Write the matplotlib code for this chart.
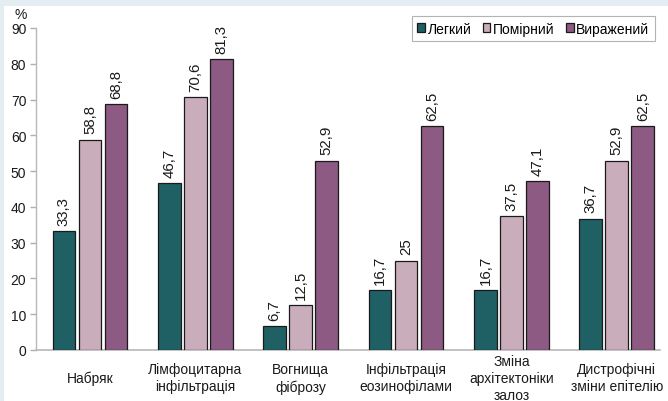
import matplotlib
matplotlib.use("Agg")
import matplotlib.pyplot as plt
import numpy as np

categories = ["Набряк", "Лімфоцитарна\nінфільтрація", "Вогнища\nфіброзу",
              "Інфільтрація\nеозинофілами", "Зміна\nархітектоніки\nзалоз",
              "Дистрофічні\nзміни епітелію"]
series_names = ["Легкий", "Помірний", "Виражений"]
mild = [33.3, 46.7, 6.7, 16.7, 16.7, 36.7]
moderate = [58.8, 70.6, 12.5, 25, 37.5, 52.9]
severe = [68.8, 81.3, 52.9, 62.5, 47.1, 62.5]
value_labels = [
    ["33,3", "46,7", "6,7", "16,7", "16,7", "36,7"],
    ["58,8", "70,6", "12,5", "25", "37,5", "52,9"],
    ["68,8", "81,3", "52,9", "62,5", "47,1", "62,5"],
]
yticks = [0, 10, 20, 30, 40, 50, 60, 70, 80, 90]

colors = ["#1f6065", "#c9adba", "#8c5a82"]

plt.rcParams['font.family'] = ['Liberation Sans', 'DejaVu Sans']

fig = plt.figure(figsize=(6.68, 4.02), dpi=100)
fig.patch.set_facecolor("#e4edf1")
W, H = 668, 402
bg = fig.add_axes([4 / W, 0, 1 - 4 / W, 1 - 7 / H], zorder=-5)
bg.set_facecolor("white")
bg.set_xticks([]); bg.set_yticks([])
for s in bg.spines.values():
    s.set_visible(False)

ax = fig.add_axes([36 / W, 1 - 351 / H, (660 - 36) / W, (351 - 29) / H], zorder=1)
ax.set_facecolor("none")

x = np.arange(len(categories))
offs = [-0.247, 0.0, 0.247]
bw = 0.215
for i, vals in enumerate([mild, moderate, severe]):
    bars = ax.bar(x + offs[i], vals, bw, color=colors[i], edgecolor="#1a1a1a",
                  linewidth=0.9, label=series_names[i], zorder=3)
    for b, lab in zip(bars, value_labels[i]):
        ax.annotate(lab, (b.get_x() + b.get_width() / 2, b.get_height()),
                    xytext=(0, 4.5), textcoords="offset points",
                    rotation=90, ha="center", va="bottom", fontsize=10.8, color="#1a1a1a")

ax.set_xlim(-0.512, 5.41)
ax.set_ylim(0, 90)
ax.set_yticks(yticks)
ax.set_yticklabels([str(t) for t in yticks], fontsize=10, color="#1a1a1a")
ax.set_xticks(x)
ax.set_xticklabels(categories, fontsize=10, color="#1a1a1a", linespacing=1.27,
                   va="center")
ax.tick_params(axis="x", length=0, pad=20)
ax.tick_params(axis="y", length=4, color="#b0b0b0", width=1, pad=3)
for s in ["top", "right"]:
    ax.spines[s].set_visible(False)
ax.spines["left"].set_color("#b8b8b8")
ax.spines["bottom"].set_color("#b8b8b8")
ax.spines["bottom"].set_linewidth(1.2)
ax.spines["left"].set_linewidth(1.0)

fig.text(21 / W, 1 - 15 / H, "%", fontsize=10, ha="center", va="center", color="#1a1a1a")

leg = ax.legend(loc="upper right", bbox_to_anchor=(655 / W, 1 - 17 / H),
                bbox_transform=fig.transFigure, ncol=3, frameon=True, fontsize=10,
                handlelength=0.55, handleheight=0.55, handletextpad=0.2, columnspacing=0.8,
                borderpad=0.4, borderaxespad=0, fancybox=False)
leg.get_frame().set_edgecolor("#a0a0a0")
leg.get_frame().set_linewidth(0.8)

fig.savefig("out.png", dpi=100, facecolor=fig.get_facecolor())
